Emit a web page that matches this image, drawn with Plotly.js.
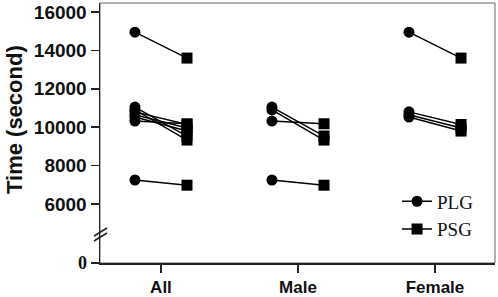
<!DOCTYPE html>
<html>
<head>
<meta charset="utf-8">
<script src="https://cdn.plot.ly/plotly-3.0.1.min.js"></script>
<style>html,body{margin:0;padding:0;background:#fff;}#chart{width:498px;height:297px;}</style>
</head>
<body>
<div id="chart"></div>
<script>
// ---- data ----
const groups = ['All', 'Male', 'Female'];
const allPLG = [14950, 11050, 10900, 10800, 10650, 10530, 10320, 7250];
const allPSG = [13600, 9540, 9330, 10140, 9960, 9800, 10180, 6980];
const malePLG = [11050, 10900, 10320, 7250];
const malePSG = [9540, 9330, 10180, 6980];
const femalePLG = [14950, 10800, 10650, 10530];
const femalePSG = [13600, 10140, 9960, 9800];
const yTicks = [6000, 8000, 10000, 12000, 14000, 16000];
const seriesNames = ['PLG', 'PSG'];
const yTitle = 'Time (second)';

const groupData = [[allPLG, allPSG], [malePLG, malePSG], [femalePLG, femalePSG]];
const off = 0.19;

const segX = [], segY = [], plgX = [], plgY = [], psgX = [], psgY = [];
groupData.forEach((gd, gi) => {
  const [a, b] = gd;
  a.forEach((v, i) => {
    segX.push(gi - off, gi + off, null);
    segY.push(v, b[i], null);
    plgX.push(gi - off, null); plgY.push(v, null);
    psgX.push(gi + off, null); psgY.push(b[i], null);
  });
});

const lineStyle = {color: '#000', width: 1.4};
const traces = [
  // empty trace so the lower (broken) axis segment is created
  {x: [], y: [], mode: 'markers', xaxis: 'x', yaxis: 'y', showlegend: false, hoverinfo: 'skip'},
  {x: segX, y: segY, mode: 'lines', line: lineStyle, showlegend: false, xaxis: 'x', yaxis: 'y2', hoverinfo: 'skip'},
  {x: plgX, y: plgY, name: seriesNames[0], mode: 'lines+markers', connectgaps: false, line: lineStyle,
   marker: {symbol: 'circle', size: 11, color: '#000'}, xaxis: 'x', yaxis: 'y2'},
  {x: psgX, y: psgY, name: seriesNames[1], mode: 'lines+markers', connectgaps: false, line: lineStyle,
   marker: {symbol: 'square', size: 11, color: '#000'}, xaxis: 'x', yaxis: 'y2'}
];

const axisColor = '#222';
const tickFont = {family: 'Liberation Sans, Arial, sans-serif', size: 19, color: '#111', weight: 'bold'};
const xTickFont = {family: 'Liberation Sans, Arial, sans-serif', size: 17, color: '#111', weight: 'bold'};
const d = 31 / 260;

const layout = {
  width: 498, height: 297,
  margin: {l: 100, r: 3, t: 3, b: 34},
  paper_bgcolor: '#fff', plot_bgcolor: '#fff',
  showlegend: true,
  legend: {x: 0.752, y: 0.31, xanchor: 'left', yanchor: 'top', bgcolor: 'rgba(0,0,0,0)',
           font: {family: 'Liberation Serif, Times New Roman, serif', size: 19, color: '#111'}},
  xaxis: {range: [-0.445, 2.438], tickvals: groups.map((g, i) => i), ticktext: groups,
          showgrid: false, zeroline: false, showline: true, linecolor: axisColor, linewidth: 1.5,
          ticks: 'outside', ticklen: 8, tickwidth: 1.5, tickcolor: axisColor,
          tickfont: xTickFont, anchor: 'y'},
  yaxis: {domain: [0, d], range: [0, 1600], tickvals: [0], ticktext: ['0'],
          showgrid: false, zeroline: false, showline: true, linecolor: axisColor, linewidth: 1.5,
          ticks: 'outside', ticklen: 8, tickwidth: 1.5, tickcolor: axisColor,
          tickfont: {family: 'Liberation Serif, Times New Roman, serif', size: 18, color: '#111', weight: 'bold'},
          anchor: 'x'},
  yaxis2: {domain: [d, 1], range: [4542, 16469], tickvals: yTicks, ticktext: yTicks.map(String),
           showgrid: false, zeroline: false, showline: true, linecolor: axisColor, linewidth: 1.5,
           ticks: 'outside', ticklen: 8, tickwidth: 1.5, tickcolor: axisColor,
           tickfont: tickFont, anchor: 'x'},
  annotations: [
    {text: yTitle, textangle: -90, xref: 'paper', yref: 'paper', x: -85/395, y: (263-120)/260,
     xanchor: 'center', yanchor: 'middle', showarrow: false,
     font: {family: 'Liberation Sans, Arial, sans-serif', size: 22, color: '#111', weight: 'bold'}}
  ],
  shapes: [
    {type: 'rect', xref: 'paper', yref: 'paper', x0: 0, x1: 1, y0: 0, y1: 1,
     line: {color: '#666', width: 1}, layer: 'below'},
    {type: 'line', xref: 'paper', yref: 'paper', x0: -6/395, x1: 7/395, y0: 27/260, y1: 35/260,
     line: {color: axisColor, width: 1.5}},
    {type: 'line', xref: 'paper', yref: 'paper', x0: -6/395, x1: 7/395, y0: 22/260, y1: 30/260,
     line: {color: axisColor, width: 1.5}}
  ]
};

Plotly.newPlot('chart', traces, layout, {staticPlot: true, displayModeBar: false});
</script>
</body>
</html>
